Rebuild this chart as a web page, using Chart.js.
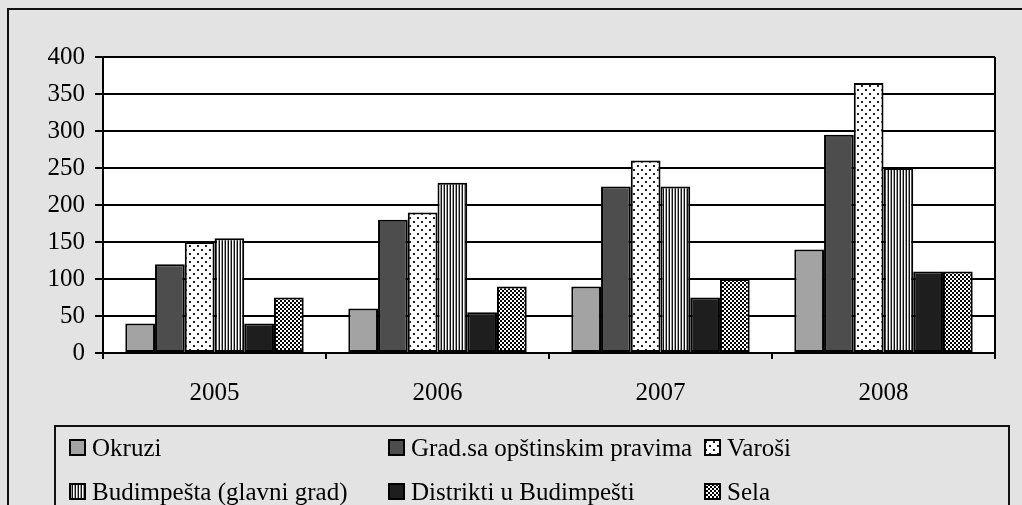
<!DOCTYPE html>
<html>
<head>
<meta charset="utf-8">
<script src="https://cdn.jsdelivr.net/npm/chart.js@4/dist/chart.umd.min.js"></script>
<style>
html,body{margin:0;padding:0;background:#e3e3e3;}
canvas{display:block;}
</style>
</head>
<body>
<canvas id="c" width="1022" height="505"></canvas>
<script>
// ---- data ----
const years = ['2005', '2006', '2007', '2008'];
const seriesNames = ['Okruzi', 'Grad.sa opštinskim pravima', 'Varoši', 'Budimpešta (glavni grad)', 'Distrikti u Budimpešti', 'Sela'];
const okruzi = [40, 60, 90, 140];
const gradovi = [120, 180, 225, 295];
const varosi = [150, 190, 260, 365];
const budimpesta = [155, 230, 225, 250];
const distrikti = [40, 55, 75, 110];
const sela = [75, 90, 100, 110];
const yTicks = [0, 50, 100, 150, 200, 250, 300, 350, 400];

// ---- patterns ----
function makePattern(w, h, draw) {
  const pc = document.createElement('canvas');
  pc.width = w; pc.height = h;
  const g = pc.getContext('2d');
  draw(g);
  return document.createElement('canvas').getContext('2d').createPattern(pc, 'repeat');
}
const dotsPattern = makePattern(8, 8, g => {
  g.fillStyle = '#fff'; g.fillRect(0, 0, 8, 8);
  g.fillStyle = '#222';
  g.fillRect(1, 1, 2, 2); g.fillRect(5, 5, 2, 2);
});
const stripePattern = makePattern(3, 4, g => {
  g.fillStyle = '#111'; g.fillRect(0, 0, 1, 4);
  g.fillStyle = '#fff'; g.fillRect(1, 0, 1, 4);
  g.fillStyle = '#999'; g.fillRect(2, 0, 1, 4);
});
const checkPattern = makePattern(4, 4, g => {
  g.fillStyle = '#fff'; g.fillRect(0, 0, 4, 4);
  g.fillStyle = '#000';
  g.fillRect(0, 0, 2, 2); g.fillRect(2, 2, 2, 2);
});

const seriesValues = [okruzi, gradovi, varosi, budimpesta, distrikti, sela];
const fills = ['#a3a3a3', '#4d4d4d', dotsPattern, stripePattern, '#1e1e1e', checkPattern];

const FONT = "'Liberation Serif', 'Times New Roman', serif";

const bgPlugin = {
  id: 'bg',
  beforeDraw(chart) {
    const ctx = chart.ctx, a = chart.chartArea;
    ctx.save();
    ctx.fillStyle = '#e3e3e3';
    ctx.fillRect(0, 0, chart.width, chart.height);
    // outer frame
    ctx.strokeStyle = '#111'; ctx.lineWidth = 2;
    ctx.beginPath();
    ctx.moveTo(8, 505); ctx.lineTo(8, 9); ctx.lineTo(1022, 9);
    ctx.stroke();
    ctx.fillStyle = '#fff';
    ctx.fillRect(a.left, a.top, a.right - a.left, a.bottom - a.top);
    ctx.restore();
  },
  afterDraw(chart) {
    const ctx = chart.ctx, a = chart.chartArea;
    ctx.save();
    // right border of the plot
    ctx.strokeStyle = '#000'; ctx.lineWidth = 2;
    ctx.beginPath();
    ctx.moveTo(a.right, a.top); ctx.lineTo(a.right, a.bottom + 5);
    ctx.stroke();
    // legend box
    ctx.lineWidth = 2;
    ctx.strokeStyle = '#111';
    ctx.beginPath();
    ctx.moveTo(55, 506); ctx.lineTo(55, 426); ctx.lineTo(1009, 426); ctx.lineTo(1009, 506);
    ctx.stroke();
    // legend items
    const cols = [70, 389, 705];
    const rows = [448, 492];
    ctx.font = '25px ' + FONT;
    ctx.textBaseline = 'middle';
    chart.data.datasets.forEach((ds, i) => {
      const x = cols[i % 3], y = rows[Math.floor(i / 3)];
      ctx.fillStyle = ds.backgroundColor;
      ctx.fillRect(x, y - 8, 15, 15);
      ctx.lineWidth = 2; ctx.strokeStyle = '#000';
      ctx.strokeRect(x, y - 8, 15, 15);
      ctx.fillStyle = '#000';
      ctx.fillText(ds.label, x + 22, y + 1);
    });
    ctx.restore();
  }
};

new Chart(document.getElementById('c'), {
  type: 'bar',
  data: {
    labels: years,
    datasets: seriesNames.map((name, i) => ({
      label: name,
      data: seriesValues[i],
      backgroundColor: fills[i],
      borderColor: '#000',
      borderWidth: 2,
      borderSkipped: false
    }))
  },
  options: {
    responsive: false,
    animation: false,
    devicePixelRatio: 1,
    layout: { padding: { top: 57, right: 27, left: 0, bottom: 0 } },
    datasets: { bar: { categoryPercentage: 0.8, barPercentage: 1.0 } },
    plugins: { legend: { display: false }, tooltip: { enabled: false } },
    scales: {
      x: {
        offset: true,
        grid: { display: true, drawOnChartArea: false, drawTicks: true, tickLength: 6, color: '#000', lineWidth: 2, offset: true },
        border: { color: '#000', width: 2 },
        ticks: { color: '#000', font: { family: FONT, size: 25 }, padding: 19 },
        afterFit(s) { s.height = 152; }
      },
      y: {
        min: 0, max: 400,
        afterBuildTicks(s) { s.ticks = yTicks.map(v => ({ value: v })); },
        grid: { color: '#000', lineWidth: 2, tickLength: 8, drawTicks: true },
        border: { color: '#000', width: 2 },
        ticks: { color: '#000', font: { family: FONT, size: 25 }, padding: 10 },
        afterFit(s) { s.width = 103; }
      }
    }
  },
  plugins: [bgPlugin]
});
</script>
</body>
</html>
